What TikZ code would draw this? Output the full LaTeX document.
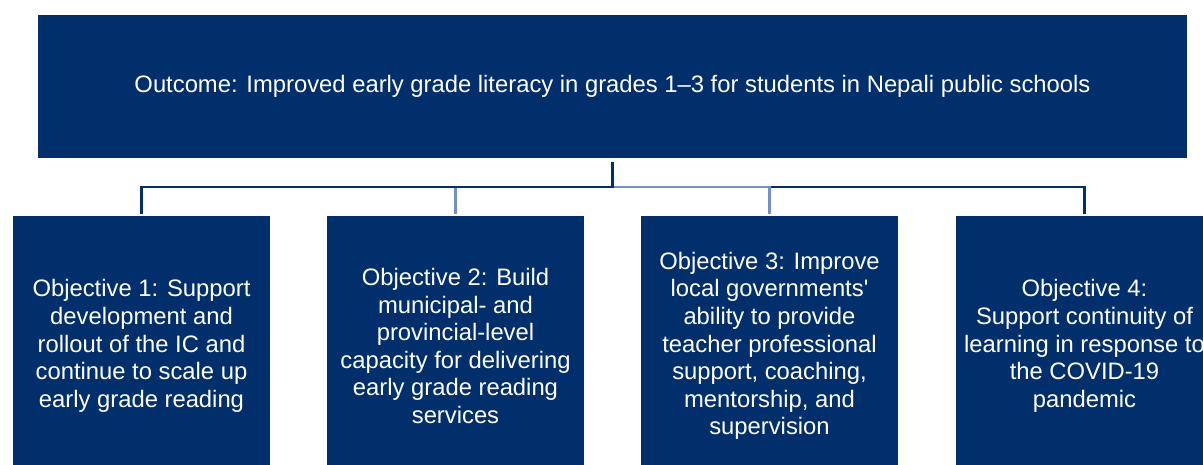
\documentclass[tikz,border=0pt]{standalone}
\usepackage{fontspec}
\setmainfont{Liberation Sans}
\usetikzlibrary{positioning}
\definecolor{navy}{RGB}{0,47,108}
\definecolor{lightnavy}{RGB}{114,142,206}

\begin{document}
\begin{tikzpicture}[x=1pt,y=-1pt]
	\tikzset{goalbox/.style={fill=navy,text=white,inner sep=0pt,align=center,
			font=\fontsize{23.8}{27.6}\selectfont}}
	\tikzset{objbox/.style={goalbox,minimum width=257pt,minimum height=260pt}}
	\tikzset{link/.style={line width=2.6pt,draw=navy}}
	\tikzset{lightlink/.style={link,draw=lightnavy}}
	\useasboundingbox (0,0) rectangle (1203,465);
	\clip (0,0) rectangle (1203,465);
	\node[goalbox,minimum width=1149pt,minimum height=143pt] (outcome) at (612.5,86.5)
		{Outcome: Improved early grade literacy in grades 1--3 for students in Nepali public schools};
	\node[objbox] (obj1) at (141.5,346) {Objective 1: Support\\development and\\rollout of the IC and\\continue to scale up\\early grade reading};
	\node[objbox] (obj2) at (455.5,346) {Objective 2: Build\\municipal- and\\provincial-level\\capacity for delivering\\early grade reading\\services};
	\node[objbox] (obj3) at (769.5,346) {Objective 3: Improve\\local governments\textquotesingle\\ability to provide\\teacher professional\\support, coaching,\\mentorship, and\\supervision};
	\node[objbox] (obj4) at (1084.5,346) {Objective 4:\\Support continuity of\\learning in response to\\the COVID-19\\pandemic};
	% elbow connectors, outer ones drawn last
	\coordinate (bus) at (0,187);
	\draw[link] ([yshift=-4pt]outcome.south) -- (outcome.south |- bus) -| ([yshift=2pt]obj4.north);
	\draw[lightlink] ([yshift=-4pt]outcome.south) -- (outcome.south |- bus) -| ([yshift=2pt]obj3.north);
	\draw[lightlink] ([yshift=-4pt]outcome.south) -- (outcome.south |- bus) -| ([yshift=2pt]obj2.north);
	\draw[link] ([yshift=-4pt]outcome.south) -- (outcome.south |- bus) -| ([yshift=2pt]obj1.north);
\end{tikzpicture}
\end{document}
